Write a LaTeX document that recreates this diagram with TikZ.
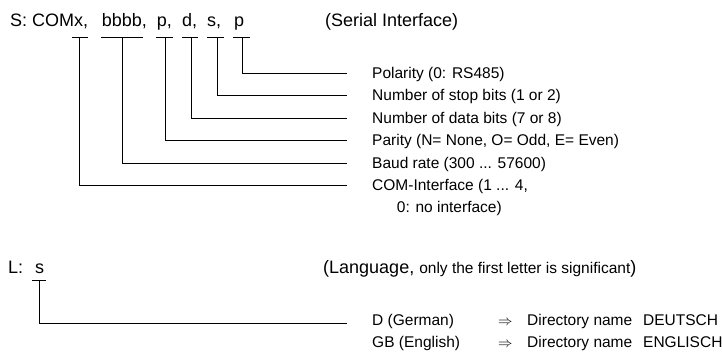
\documentclass[tikz,border=0pt]{standalone}
\usepackage{fontspec}
\setmainfont{Liberation Sans}
\newcommand{\bigf}{\fontsize{18}{21}\selectfont}
\newcommand{\smallf}{\fontsize{15.5}{18}\selectfont}
\begin{document}
\begin{tikzpicture}[x=1pt,y=-1pt,
  main/.style={font=\bigf, inner sep=0pt, anchor=base west},
  desc/.style={font=\smallf, inner sep=0pt, anchor=base west},
  lead/.style={line width=1pt, black}]
\useasboundingbox (0,0) rectangle (722,351);

% ---------- Serial interface line ----------
\node[main] (sCOM) at (10,26.5) {S: COMx,};
\node[main] (sB)   at (101.7,26.5) {bbbb,};
\node[main] (sP)   at (156.7,26.5) {p,};
\node[main] (sD)   at (182,26.5) {d,};
\node[main] (sS)   at (207,26.5) {s,};
\node[main] (sPol) at (234,26.5) {p};
\node[main] (serial) at (325,26.5) {(Serial Interface)};

% tick coordinates
\coordinate (kCOM) at (79.5,37.5);
\coordinate (kB)   at (122,37.5);
\coordinate (kP)   at (165,37.5);
\coordinate (kD)   at (191,37.5);
\coordinate (kS)   at (217,37.5);
\coordinate (kPol) at (242,37.5);

% descriptions
\node[desc] (dPol) at (372,78.5) {Polarity (0: RS485)};
\node[desc] (dS)   at (372,100.5) {Number of stop bits (1 or 2)};
\node[desc] (dD)   at (372,123) {Number of data bits (7 or 8)};
\node[desc] (dP)   at (372,145.5) {Parity (N= None, O= Odd, E= Even)};
\node[desc] (dB)   at (372,168) {Baud rate (300 ... 57600)};
\node[desc] (dCOM) at (372,190.5) {COM-Interface (1 ... 4,};
\node[desc] (dCOM2) at (396.7,212.5) {0: no interface)};

% line ends
\coordinate (ePol) at (347,73);
\coordinate (eS)   at (347,95.5);
\coordinate (eD)   at (347,118);
\coordinate (eP)   at (347,140.5);
\coordinate (eB)   at (347,163);
\coordinate (eCOM) at (347,185.5);

% ticks
\draw[lead] ([xshift=-7.5pt]kCOM) -- ([xshift=8.5pt]kCOM);
\draw[lead] ([xshift=-21pt]kB) -- ([xshift=21pt]kB);
\draw[lead] ([xshift=-9pt]kP) -- ([xshift=8pt]kP);
\draw[lead] ([xshift=-9pt]kD) -- ([xshift=7pt]kD);
\draw[lead] ([xshift=-10pt]kS) -- ([xshift=7pt]kS);
\draw[lead] ([xshift=-9pt]kPol) -- ([xshift=8pt]kPol);

% leaders
\draw[lead] (kPol) |- (ePol);
\draw[lead] (kS) |- (eS);
\draw[lead] (kD) |- (eD);
\draw[lead] (kP) |- (eP);
\draw[lead] (kB) |- (eB);
\draw[lead] (kCOM) |- (eCOM);

% ---------- Language line ----------
\node[main] (lL) at (8,273.3) {L:};
\node[main] (lS) at (35,273.3) {s};
\node[main] (lang) at (323,273.3) {(Language, {\smallf only the first letter is significant})};

\coordinate (kL) at (39.3,280.7);
\coordinate (eL) at (346.7,323);
\draw[lead] ([xshift=-7pt]kL) -- ([xshift=6.4pt]kL);
\draw[lead] (kL) |- (eL);

\node[desc] (ger) at (372,325) {D (German)};
\node[desc] (eng) at (372,347) {GB (English)};
\node[desc] (arr1) at (498,325) {$\Rightarrow$};
\node[desc] (arr2) at (498,347) {$\Rightarrow$};
\node[desc] (dir1) at (527,325) {Directory name};
\node[desc] (dir2) at (527,347) {Directory name};
\node[desc] (deu) at (643,325) {DEUTSCH};
\node[desc] (enl) at (643,347) {ENGLISCH};
\end{tikzpicture}
\end{document}
